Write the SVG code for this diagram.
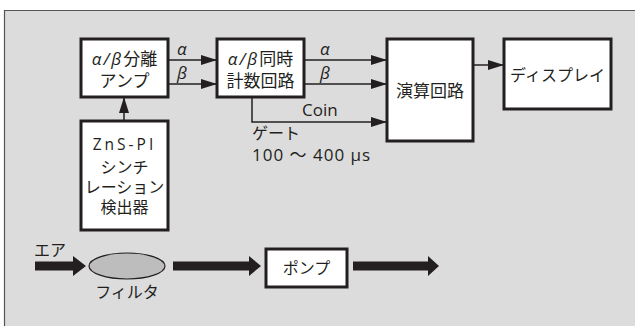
<svg xmlns="http://www.w3.org/2000/svg" width="635" height="326" viewBox="0 0 635 326">
<style>
.bg{fill:#dcdcdc;stroke:none}
.frame{fill:none;stroke:#555;stroke-width:1.2}
.box{fill:#fff;stroke:#231f20;stroke-width:3}
.line{fill:none;stroke:#231f20;stroke-width:1.5}
.fat{fill:#231f20;stroke:none}
text{font-family:"Open Sans","Noto Sans CJK JP",sans-serif;font-size:17px;fill:#231f20}
.c{text-anchor:middle}
.it{font-style:italic;letter-spacing:2px}
.s{font-size:16px}
</style>
<defs>
<marker id="ah" viewBox="0 0 16 10" refX="16" refY="5" markerWidth="16" markerHeight="10" markerUnits="userSpaceOnUse" orient="auto">
<path d="M0,0 L16,5 L0,10 Z" fill="#231f20"/>
</marker>
</defs>
<rect width="635" height="326" fill="#fff"/>
<rect class="bg" x="4.5" y="10" width="631" height="316"/>
<path class="frame" d="M4.5,326 V10.5 H635"/>

<g id="connectors">
<line class="line" x1="168" y1="60" x2="217" y2="60" marker-end="url(#ah)"/>
<line class="line" x1="168" y1="84" x2="217" y2="84" marker-end="url(#ah)"/>
<line class="line" x1="124" y1="121" x2="124" y2="97" marker-end="url(#ah)"/>
<line class="line" x1="304" y1="60" x2="387" y2="60" marker-end="url(#ah)"/>
<line class="line" x1="304" y1="84" x2="387" y2="84" marker-end="url(#ah)"/>
<polyline class="line" points="252,97 252,122 387,122" marker-end="url(#ah)"/>
<line class="line" x1="473" y1="65" x2="504" y2="65" marker-end="url(#ah)"/>
<text style="font-style:italic" x="177" y="55">α</text>
<text style="font-style:italic" x="177" y="79">β</text>
<text style="font-style:italic" x="320" y="55">α</text>
<text style="font-style:italic" x="320" y="79">β</text>
<text x="302" y="116">Coin</text>
<text class="s" x="252" y="139">ゲート</text>
<text x="252" y="161" style="letter-spacing:1px">100 ～ 400 μs</text>
<path class="fat" d="M35,261.5 H73 V256 L86,266 L73,276 V270.5 H35 Z"/>
<path class="fat" d="M173,261.5 H249 V256 L261,266 L249,276 V270.5 H173 Z"/>
<path class="fat" d="M353,261.5 H428 V256 L439,266 L428,276 V270.5 H353 Z"/>
<text class="s" x="34" y="256">エア</text>
</g>

<g id="amp">
<rect class="box" x="81" y="39" width="87" height="58"/>
<text class="c"><tspan x="124.5" y="65"><tspan class="it">α/β</tspan>分離</tspan><tspan x="124.5" y="87">アンプ</tspan></text>
</g>

<g id="coincidence">
<rect class="box" x="217" y="39" width="87" height="58"/>
<text class="c"><tspan x="260.5" y="65"><tspan class="it">α/β</tspan>同時</tspan><tspan x="260.5" y="87">計数回路</tspan></text>
</g>

<g id="detector">
<rect class="box" x="81" y="121" width="87" height="109"/>
<text class="c" x="124.5" y="150" style="font-size:15.5px;letter-spacing:3px">ZnS-PI</text>
<text class="c s"><tspan x="124.5" y="173">シンチ</tspan><tspan x="124.5" y="193">レーション</tspan><tspan x="124.5" y="213">検出器</tspan></text>
</g>

<g id="calc">
<rect class="box" x="387" y="39" width="86" height="102"/>
<text class="c" x="430" y="97">演算回路</text>
</g>

<g id="display">
<rect class="box" x="504" y="39" width="107" height="70"/>
<text class="c s" x="557.5" y="81">ディスプレイ</text>
</g>

<g id="filter">
<ellipse cx="127" cy="266" rx="38" ry="13" fill="#bdbdbd" stroke="#231f20" stroke-width="1.2"/>
<text class="c s" x="127" y="298">フィルタ</text>
</g>

<g id="pump">
<rect class="box" x="266" y="249" width="81" height="38"/>
<text class="c s" x="306.5" y="274">ポンプ</text>
</g>
</svg>
